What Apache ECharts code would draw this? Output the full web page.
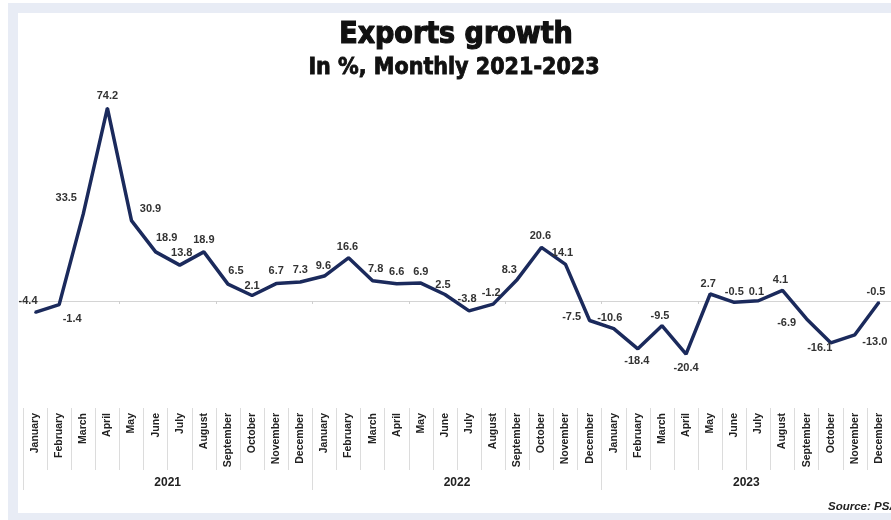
<!DOCTYPE html>
<html>
<head>
<meta charset="utf-8">
<script src="https://cdn.jsdelivr.net/npm/echarts@6/dist/echarts.min.js"></script>
<style>
html,body{margin:0;padding:0;background:#fff;}
#c{width:891px;height:520px;}
</style>
</head>
<body>
<div id="c"></div>
<script>
const months = ['January','February','March','April','May','June','July','August','September','October','November','December'];
const years = ['2021','2022','2023'];
const categories = [].concat(months, months, months);
const exportsGrowth = [-4.4,-1.4,33.5,74.2,30.9,18.9,13.8,18.9,6.5,2.1,6.7,7.3,
  9.6,16.6,7.8,6.6,6.9,2.5,-3.8,-1.2,8.3,20.6,14.1,-7.5,
  -10.6,-18.4,-9.5,-20.4,2.7,-0.5,0.1,4.1,-6.9,-16.1,-13.0,-0.5];
const labelTexts = ['-4.4','-1.4','33.5','74.2','30.9','18.9','13.8','18.9','6.5','2.1','6.7','7.3',
  '9.6','16.6','7.8','6.6','6.9','2.5','-3.8','-1.2','8.3','20.6','14.1','-7.5',
  '-10.6','-18.4','-9.5','-20.4','2.7','-0.5','0.1','4.1','-6.9','-16.1','-13.0','-0.5'];
// label offsets (layout only)
const labelOffsets = [[-7,-11],[13,14],[-17,-16],[0,-12],[19,-12],[11,-14],[2,-12],[0,-12],[8,-13],[0,-10],[0,-13],[0,-12],
  [-1,-10],[-1,-11],[3,-12],[0,-12],[0,-11],[-2,-10],[-2,-12],[-2,-11],[-8,-9],[-1,-11],[-3,-11],[-18,-4],
  [-4,-11],[-1,12],[-2,-10],[0,14],[-2,-10],[0,-10],[-2,-9],[-2,-10],[-20,4],[-11,5],[20,7],[-3,-10]];

const chart = echarts.init(document.getElementById('c'), null, {renderer:'canvas'});
const G = {left:23, width:869};
const seriesData = exportsGrowth.map((v,i)=>({
  value:v,
  label:{formatter:labelTexts[i], offset:labelOffsets[i]}
}));
chart.setOption({
  animation:false,
  backgroundColor:'#fff',
  graphic:[
    {type:'rect', z:-10, shape:{x:8,y:3,width:900,height:520}, style:{fill:'#e8ecf5'}, silent:true},
    {type:'rect', z:-9, shape:{x:18,y:13,width:900,height:500}, style:{fill:'#ffffff'}, silent:true},
    {type:'text', x:456, y:35, style:{text:'Exports growth', fontFamily:'DejaVu Sans Condensed', fontWeight:'bold', fontSize:30, fill:'#111', stroke:'#111', lineWidth:1.2, textAlign:'center', textVerticalAlign:'middle'}},
    {type:'text', x:454, y:68, style:{text:'In %, Monthly 2021-2023', fontFamily:'DejaVu Sans Condensed', fontWeight:'bold', fontSize:23, fill:'#111', stroke:'#111', lineWidth:0.8, textAlign:'center', textVerticalAlign:'middle'}},
    {type:'text', x:828, y:507, style:{text:'Source: PSA', fontFamily:'Liberation Sans', fontWeight:'bold', fontStyle:'italic', fontSize:11.5, fill:'#222', textAlign:'left', textVerticalAlign:'middle'}}
  ],
  grid:[
    {left:G.left, width:G.width, top:93, height:312},
    {left:G.left, width:G.width, top:408, height:62},
    {left:G.left, width:G.width, top:408, height:82}
  ],
  xAxis:[
    {type:'category', gridIndex:0, data:categories, boundaryGap:true,
      axisLine:{show:true, onZero:true, lineStyle:{color:'#d4d4d4', width:1}},
      axisTick:{show:true, length:3, lineStyle:{color:'#cfcfcf'}},
      axisLabel:{show:false}, splitLine:{show:false}},
    {type:'category', gridIndex:0, data:categories, boundaryGap:true, position:'bottom',
      axisLine:{show:false, onZero:false}, axisTick:{show:false}, splitLine:{show:false},
      axisLabel:{show:true, interval:0, rotate:90, margin:8, fontFamily:'Liberation Sans', fontWeight:'bold', fontSize:10.5, color:'#222'}},
    {type:'category', gridIndex:1, data:categories, boundaryGap:true,
      axisLine:{show:false, onZero:false}, axisTick:{show:false}, axisLabel:{show:false},
      splitLine:{show:true, interval:0, lineStyle:{color:'#dcdcdc', width:1}}},
    {type:'category', gridIndex:2, data:years, boundaryGap:true,
      axisLine:{show:false, onZero:false}, axisTick:{show:false},
      axisLabel:{show:true, inside:true, margin:1, fontFamily:'Liberation Sans', fontWeight:'bold', fontSize:12, color:'#222'},
      splitLine:{show:true, interval:0, lineStyle:{color:'#dcdcdc', width:1}}}
  ],
  yAxis:[
    {type:'value', gridIndex:0, min:-40, max:80, show:false},
    {type:'value', gridIndex:1, show:false},
    {type:'value', gridIndex:2, show:false}
  ],
  series:[{
    type:'line', xAxisIndex:0, yAxisIndex:0, data:seriesData,
    symbol:'circle', symbolSize:2, showSymbol:true,
    lineStyle:{color:'#1b2a5c', width:3.5},
    itemStyle:{color:'#1b2a5c'},
    label:{show:true, position:'inside', fontFamily:'Liberation Sans', fontWeight:'bold', fontSize:11, color:'#333'},
    z:5
  }]
});
</script>
</body>
</html>
